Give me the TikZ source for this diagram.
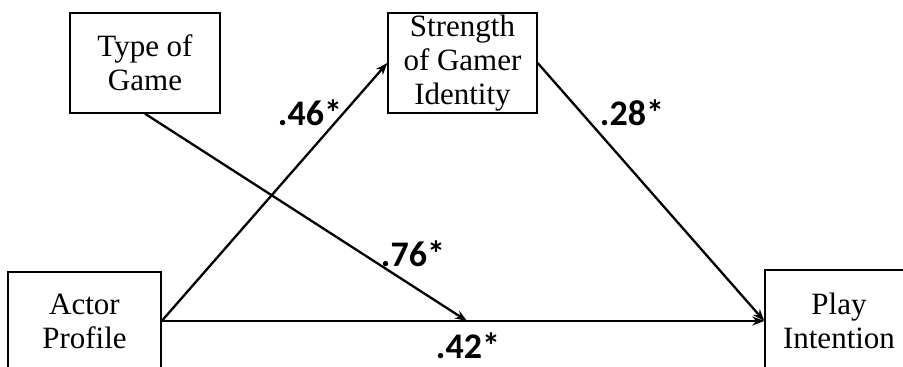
\documentclass[tikz,border=0pt]{standalone}
\usepackage{fontspec}
\setmainfont{Liberation Serif}
\newfontfamily\lblfont{Carlito}
\usetikzlibrary{arrows.meta}
\begin{document}
\begin{tikzpicture}[x=1pt,y=-1pt,
  boxnode/.style={draw=black,line width=1.4pt,align=center,inner sep=0pt,
    font=\fontsize{31}{34}\selectfont},
  conn/.style={line width=2.3pt,-{Stealth[length=12pt,width=9pt]}},
  coef/.style={font=\lblfont\bfseries\fontsize{36}{36}\selectfont,inner sep=0pt}]
\useasboundingbox (0,0) rectangle (903,367);
\clip (0,0) rectangle (903,367);
\node[boxnode,minimum width=150pt,minimum height=100pt] (type) at (145,63) {Type of\\Game};
\node[boxnode,minimum width=149pt,minimum height=100pt] (strength) at (462.5,63) {Strength\\of Gamer\\Identity};
\node[boxnode,minimum width=153pt,minimum height=98pt] (actor) at (84.5,321) {Actor\\Profile};
\node[boxnode,minimum width=148pt,minimum height=102pt] (play) at (839,321) {Play\\Intention};
\coordinate (mid) at (467,321);
\draw[conn] (actor.east) -- (strength.west);
\draw[conn] (actor.east) -- (play.west);
\draw[conn] (strength.east) -- (play.west);
\draw[conn] (type.south) -- (mid);
\node[coef] (c46) at (310,113) {.46*};
\node[coef] (c28) at (632,113) {.28*};
\node[coef] (c76) at (413,254) {.76*};
\node[coef] (c42) at (468,346) {.42*};
\end{tikzpicture}
\end{document}
